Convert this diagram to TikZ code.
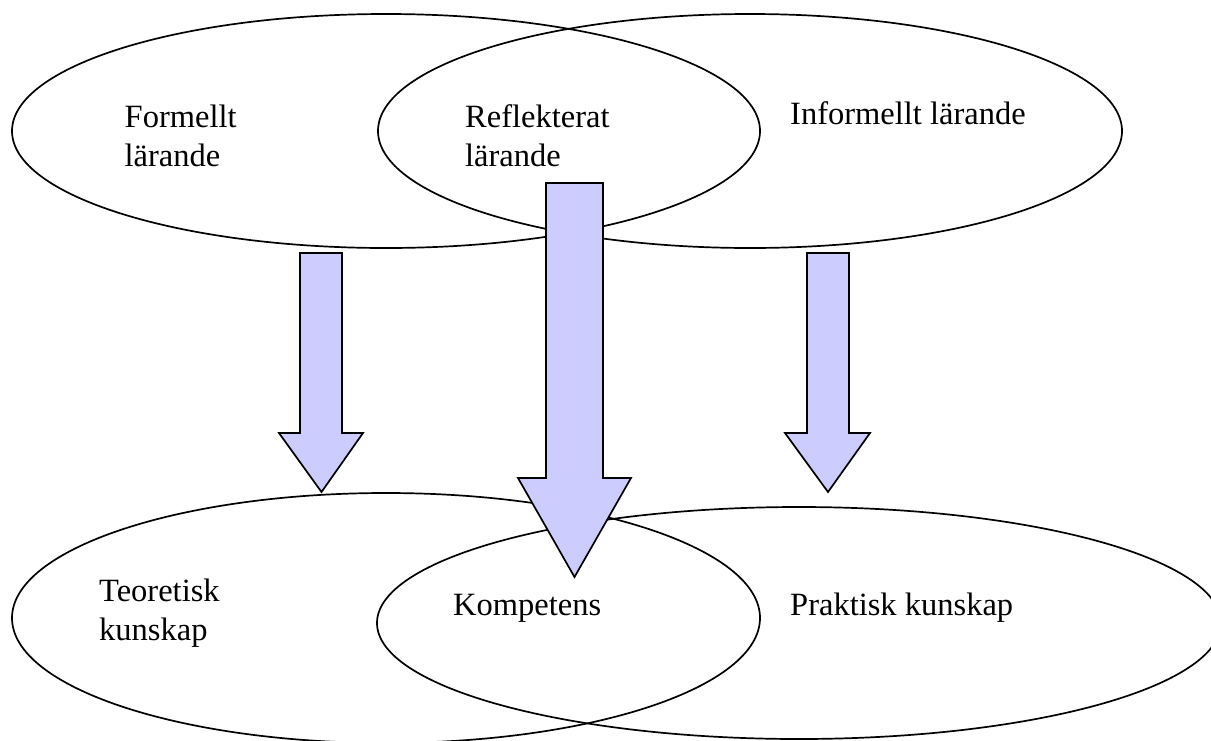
\documentclass[tikz,border=0pt]{standalone}
\usepackage{fontspec}
\setmainfont{Liberation Serif}
\usetikzlibrary{shapes.geometric}
\definecolor{arrowfill}{HTML}{CCCCFF}
\begin{document}
\begin{tikzpicture}[x=1pt,y=-1pt,
  venn/.style={draw=black, line width=1.7pt, ellipse, inner sep=0pt, outer sep=0pt},
  blockarrow/.style={draw=black, line width=1.7pt, fill=arrowfill, line join=miter},
  lbl/.style={inner sep=0pt, anchor=base west, align=left, font=\fontsize{32.5}{38.5}\selectfont}]
\useasboundingbox (0,0) rectangle (1211,740);
\clip (0,0) rectangle (1211,740);
% top ellipses
\node[venn, minimum width=748pt, minimum height=234pt] (formal) at (386,131) {};
\node[venn, minimum width=744pt, minimum height=234pt] (informal) at (750,131) {};
% bottom ellipses
\node[venn, minimum width=748pt, minimum height=250pt] (theory) at (386,618) {};
\node[venn, minimum width=844pt, minimum height=232pt] (practice) at (799,623) {};
% labels (base anchor = baseline of last line)
\node[lbl] (tformal) at (124.5,166) {Formellt\\lärande};
\node[lbl] (trefl) at (465,166) {Reflekterat\\lärande};
\node[lbl] (tinformal) at (790,124) {Informellt lärande};
\node[lbl] (ttheory) at (99,640) {Teoretisk\\kunskap};
\node[lbl] (tcomp) at (453,615) {Kompetens};
\node[lbl] (tpract) at (790,615) {Praktisk kunskap};
% block arrows
\draw[blockarrow] (300,253) -- (342,253) -- (342,433) -- (363,433) -- (321.5,492) -- (279,433) -- (300,433) -- cycle;
\draw[blockarrow] (546,183) -- (603,183) -- (603,478) -- (631,478) -- (574.5,577) -- (518,478) -- (546,478) -- cycle;
\draw[blockarrow] (807,253) -- (849,253) -- (849,433) -- (870,433) -- (828,492) -- (785,433) -- (807,433) -- cycle;
\end{tikzpicture}
\end{document}
